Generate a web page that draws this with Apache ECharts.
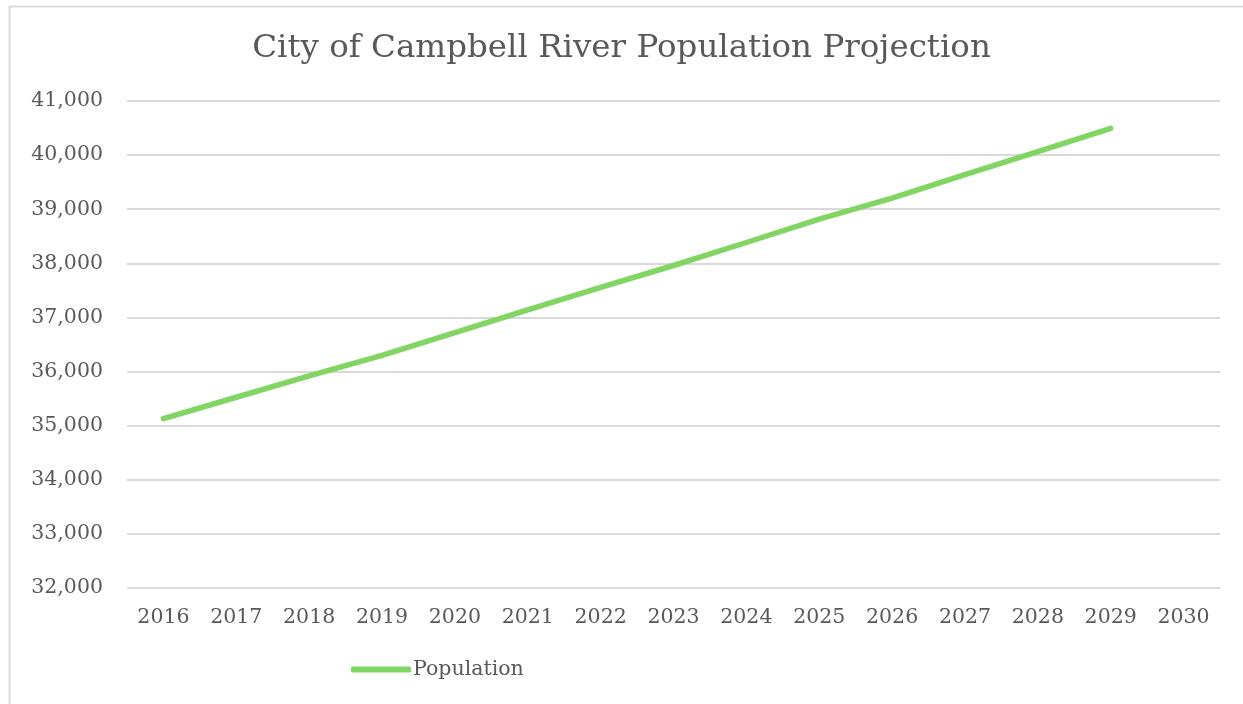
<!DOCTYPE html>
<html>
<head>
<meta charset="utf-8">
<script src="https://cdn.jsdelivr.net/npm/echarts@6/dist/echarts.min.js"></script>
<style>html,body{margin:0;padding:0;background:#fff}#c{width:1243px;height:704px}</style>
</head>
<body>
<div id="c"></div>
<script>
const years = ['2016','2017','2018','2019','2020','2021','2022','2023','2024','2025','2026','2027','2028','2029','2030'];
const population = [35130,35525,35920,36300,36720,37140,37555,37960,38385,38815,39205,39640,40065,40495,null];
const titleText = 'City of Campbell River Population Projection';
const seriesName = 'Population';
const yMin = 32000, yMax = 41000, yStep = 1000;

const font = "'DejaVu Serif', 'Liberation Serif', serif";
const chart = echarts.init(document.getElementById('c'), null, {renderer:'canvas'});
chart.setOption({
  animation: false,
  backgroundColor: '#fff',
  graphic: [{
    type: 'rect', left: 7, top: 4, silent: true,
    shape: {x: 0, y: 0, width: 1300, height: 800},
    style: {fill: 'none', stroke: '#D9D9D9', lineWidth: 2}
  }],
  title: {
    text: titleText, left: 'center', top: 27,
    textStyle: {fontFamily: font, fontSize: 32.5, fontWeight: 'normal', color: '#595959'}
  },
  legend: {
    left: 346, top: 654, itemWidth: 60, itemHeight: 6, itemGap: 10,
    data: [{name: seriesName, icon: 'roundRect'}],
    textStyle: {fontFamily: font, fontSize: 20.5, color: '#595959', padding: [0,0,0,-3]}
  },
  grid: {left: 127, right: 23, top: 101, bottom: 116, containLabel: false},
  xAxis: {
    type: 'category', data: years, boundaryGap: true,
    axisLine: {show: false}, axisTick: {show: false},
    axisLabel: {fontFamily: font, fontSize: 20.5, color: '#595959', margin: 19}
  },
  yAxis: {
    type: 'value', min: yMin, max: yMax, interval: yStep,
    axisLine: {show: false}, axisTick: {show: false},
    splitLine: {lineStyle: {color: '#D9D9D9', width: 2}},
    axisLabel: {fontFamily: font, fontSize: 20.5, color: '#595959', margin: 24,
      formatter: v => v.toLocaleString('en-US')}
  },
  series: [{
    name: seriesName, type: 'line', data: population,
    showSymbol: false, symbol: 'none',
    lineStyle: {color: '#80D563', width: 5.5, cap: 'round', join: 'round'},
    itemStyle: {color: '#80D563'}
  }]
});
</script>
</body>
</html>
